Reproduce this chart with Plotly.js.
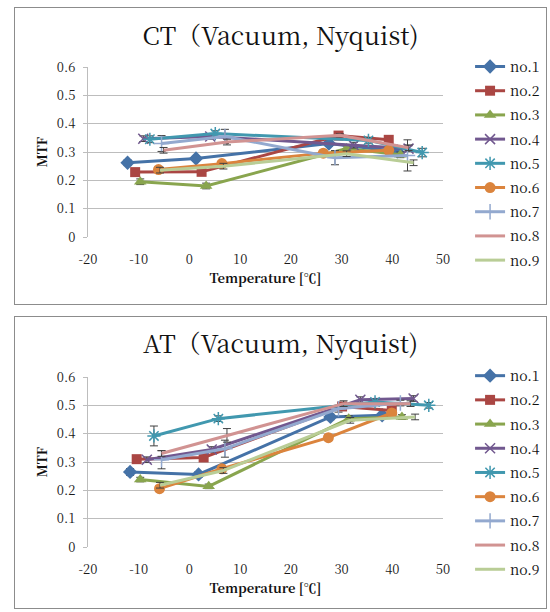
<!DOCTYPE html>
<html>
<head>
<meta charset="utf-8">
<script src="https://cdn.plot.ly/plotly-3.0.1.min.js"></script>
<style>
  html, body { margin: 0; padding: 0; background: #ffffff; }
  body { width: 550px; height: 612px; position: relative; overflow: hidden; }
  .box { position: absolute; left: 14px; width: 533px; border: 1px solid #8c8c8c; box-sizing: border-box; }
  #ct { top: 7px; height: 298px; }
  #at { top: 316px; height: 293px; }
</style>
</head>
<body>
<div id="ct" class="box"></div>
<div id="at" class="box"></div>
<script>
// ---- data ----
const seriesNames = ["no.1", "no.2", "no.3", "no.4", "no.5", "no.6", "no.7", "no.8", "no.9"];

// CT (Vacuum, Nyquist)
const ctTemp = [
  [-12.2, 1.3, 27.5, 41.0],
  [-10.7, 2.4, 29.4, 39.3],
  [-9.7, 3.3, 31.0, 41.6],
  [-9.1, 4.1, 32.4, 43.2],
  [-7.8, 5.1, 35.3, 45.9],
  [-6.1, 6.4, 26.4, 39.3],
  [-5.5, 7.0, 28.7, 43.0],
  [-5.1, 7.4, 29.7, 43.2],
  [-5.8, 6.7, 31.0, 44.2]
];
const ctMTF = [
  [0.262, 0.277, 0.330, 0.302],
  [0.229, 0.230, 0.358, 0.343],
  [0.195, 0.180, 0.312, 0.290],
  [0.347, 0.355, 0.324, 0.312],
  [0.345, 0.365, 0.341, 0.298],
  [0.238, 0.259, 0.296, 0.306],
  [0.330, 0.355, 0.280, 0.288],
  [0.306, 0.335, 0.359, 0.315],
  [0.236, 0.250, 0.294, 0.262]
];
const ctErr = [
  [0.010, 0.008, 0.010, 0.010],
  [0.010, 0.010, 0.005, 0.010],
  [0.010, 0.010, 0.010, 0.010],
  [0.010, 0.010, 0.010, 0.010],
  [0.012, 0.010, 0.010, 0.015],
  [0.010, 0.010, 0.010, 0.010],
  [0.028, 0.025, 0.025, 0.055],
  [0.010, 0.010, 0.005, 0.010],
  [0.010, 0.010, 0.010, 0.010]
];

// AT (Vacuum, Nyquist)
const atTemp = [
  [-11.7, 1.8, 27.8, 38.0],
  [-10.4, 2.8, 30.1, 39.9],
  [-9.7, 3.8, 31.4, 41.9],
  [-8.4, 4.4, 33.7, 44.2],
  [-7.0, 5.7, 36.6, 47.2],
  [-5.9, 6.4, 27.4, 39.9],
  [-5.5, 7.0, 29.4, 41.6],
  [-5.5, 7.4, 30.4, 43.6],
  [-5.8, 6.7, 31.7, 44.5]
];
const atMTF = [
  [0.265, 0.256, 0.459, 0.465],
  [0.310, 0.316, 0.496, 0.482],
  [0.238, 0.214, 0.453, 0.459],
  [0.308, 0.344, 0.520, 0.524],
  [0.392, 0.453, 0.512, 0.500],
  [0.206, 0.276, 0.386, 0.473],
  [0.308, 0.347, 0.488, 0.508],
  [0.330, 0.394, 0.506, 0.506],
  [0.218, 0.270, 0.447, 0.459]
];
const atErr = [
  [0.012, 0.010, 0.010, 0.010],
  [0.010, 0.010, 0.010, 0.010],
  [0.008, 0.008, 0.010, 0.008],
  [0.010, 0.010, 0.010, 0.010],
  [0.035, 0.010, 0.010, 0.010],
  [0.010, 0.010, 0.010, 0.010],
  [0.032, 0.030, 0.012, 0.010],
  [0.010, 0.024, 0.010, 0.010],
  [0.010, 0.010, 0.010, 0.010]
];

const xTickVals = [-20, -10, 0, 10, 20, 30, 40, 50];
const xTickText = ["-20", "-10", "0", "10", "20", "30", "40", "50"];
const yTickVals = [0, 0.1, 0.2, 0.3, 0.4, 0.5, 0.6];
const yTickText = ["0", "0.1", "0.2", "0.3", "0.4", "0.5", "0.6"];

// ---- styles ----
const colors = ["#4572A7", "#AA4643", "#89A54E", "#71588F", "#4198AF", "#DB843D", "#93A9CF", "#D19392", "#B9CD96"];
const symbols = ["diamond", "square", "triangle-up", "x-thin-open", "asterisk-open", "circle", "cross-thin-open", null, null];
const sizes = [11, 10, 11, 10, 11, 11, 11, 0, 0];
const FONTFAM = "Noto Serif CJK JP";

function makeTraces(temps, vals, errs) {
  return seriesNames.map((name, i) => {
    const t = {
      type: "scatter",
      mode: symbols[i] ? "lines+markers" : "lines",
      name: name,
      x: temps[i],
      y: vals[i],
      legendgroup: "g" + i,
      line: { color: colors[i], width: 3 },
      error_y: { type: "data", array: errs[i], visible: true, color: "#404040", thickness: 1, width: 4 }
    };
    if (symbols[i]) {
      t.marker = { symbol: symbols[i], size: sizes[i], color: colors[i], line: { color: colors[i], width: symbols[i].indexOf("open") >= 0 ? 1.5 : 0 } };
    }
    return t;
  });
}

function makeLayout(title, h, t, b, titleY, legY) {
  return {
    width: 531, height: h,
    margin: { l: 73, r: 103, t: t, b: b, pad: 0 },
    paper_bgcolor: "#ffffff", plot_bgcolor: "#ffffff",
    showlegend: true,
    font: { family: FONTFAM, color: "#1a1a1a", size: 14 },
    title: { text: title, font: { family: FONTFAM, size: 25, color: "#111" }, x: 0.5, xref: "container", xanchor: "center", y: titleY, yref: "container", yanchor: "middle" },
    xaxis: {
      range: [-20, 50], tickvals: xTickVals, ticktext: xTickText, showgrid: false, zeroline: false,
      showline: false, ticks: "", ticklabelstandoff: 13, tickfont: { family: FONTFAM, size: 13, color: "#1a1a1a" },
      title: { text: "<b>Temperature [℃]</b>", font: { family: FONTFAM, size: 13, color: "#111" }, standoff: 5 }
    },
    yaxis: {
      range: [0, 0.6], tickvals: yTickVals, ticktext: yTickText, showgrid: true, gridcolor: "#bdbdbd", gridwidth: 1,
      zeroline: false, showline: true, linecolor: "#bdbdbd", linewidth: 1, ticks: "outside", ticklen: 4, tickcolor: "#bdbdbd",
      ticklabelstandoff: 5,
      tickfont: { family: FONTFAM, size: 13, color: "#1a1a1a" },
      title: { text: "<b>MTF</b>", font: { family: FONTFAM, size: 13, color: "#111" }, standoff: 6 }
    },
    legend: {
      xref: "container", yref: "container",
      x: 0.857, xanchor: "left", y: legY, yanchor: "top", traceorder: "grouped", tracegroupgap: 3, maxheight: 400,
      font: { family: FONTFAM, size: 14, color: "#111" }, bgcolor: "rgba(0,0,0,0)", borderwidth: 0
    }
  };
}

const config = { staticPlot: true, displayModeBar: false };
Plotly.newPlot("ct", makeTraces(ctTemp, ctMTF, ctErr), makeLayout("CT（Vacuum, Nyquist)", 296, 59, 67, 1 - 28 / 296, 0.855), config);
Plotly.newPlot("at", makeTraces(atTemp, atMTF, atErr), makeLayout("AT（Vacuum, Nyquist)", 291, 60, 61, 1 - 27 / 291, 0.852), config);
</script>
</body>
</html>
